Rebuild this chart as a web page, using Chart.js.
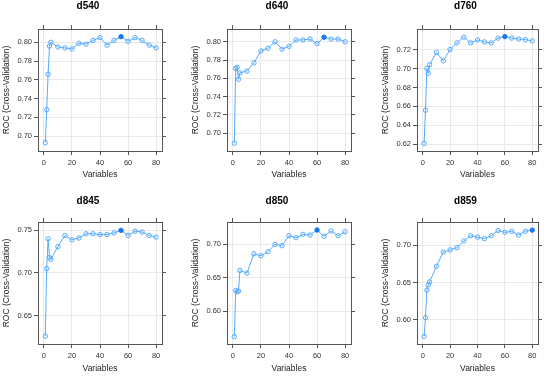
<!DOCTYPE html>
<html>
<head>
<meta charset="utf-8">
<script src="https://cdn.jsdelivr.net/npm/chart.js@4.4.1/dist/chart.umd.min.js"></script>
<style>
  html, body { margin: 0; padding: 0; background: #fff; }
  body { width: 550px; height: 376px; position: relative; overflow: hidden; }
  canvas { position: absolute; }
</style>
</head>
<body>
<script>
// Number of variables tried (x axis)
const variables = [1, 2, 3, 4, 5, 10, 15, 20, 25, 30, 35, 40, 45, 50, 55, 60, 65, 70, 75, 80];

// ROC (cross-validation) per subset size
const d540 = [0.693, 0.728, 0.766, 0.796, 0.800, 0.795, 0.794, 0.793, 0.799, 0.798, 0.802, 0.805, 0.797, 0.802, 0.806, 0.801, 0.805, 0.802, 0.797, 0.794];
const d640 = [0.689, 0.771, 0.772, 0.759, 0.766, 0.768, 0.777, 0.790, 0.793, 0.800, 0.792, 0.795, 0.802, 0.802, 0.803, 0.798, 0.805, 0.803, 0.803, 0.800];
const d760 = [0.621, 0.656, 0.700, 0.695, 0.704, 0.717, 0.708, 0.720, 0.727, 0.733, 0.727, 0.730, 0.728, 0.727, 0.732, 0.7336, 0.732, 0.731, 0.7305, 0.729];
const d845 = [0.626, 0.705, 0.740, 0.718, 0.716, 0.731, 0.744, 0.739, 0.741, 0.746, 0.746, 0.745, 0.745, 0.747, 0.750, 0.744, 0.749, 0.748, 0.744, 0.742];
const d850 = [0.562, 0.631, 0.629, 0.630, 0.661, 0.657, 0.686, 0.683, 0.689, 0.700, 0.698, 0.713, 0.710, 0.715, 0.714, 0.7215, 0.712, 0.720, 0.713, 0.719];
const d859 = [0.578, 0.603, 0.640, 0.647, 0.651, 0.672, 0.691, 0.694, 0.697, 0.706, 0.713, 0.711, 0.709, 0.713, 0.720, 0.7175, 0.719, 0.714, 0.719, 0.7205];

// Tick values
const xTicks = [0, 20, 40, 60, 80];
const yTicks540 = [0.70, 0.72, 0.74, 0.76, 0.78, 0.80];
const yTicks640 = [0.70, 0.72, 0.74, 0.76, 0.78, 0.80];
const yTicks760 = [0.62, 0.64, 0.66, 0.68, 0.70, 0.72];
const yTicks845 = [0.65, 0.70, 0.75];
const yTicks850 = [0.60, 0.65, 0.70];
const yTicks859 = [0.60, 0.65, 0.70];

const FONT = "'Liberation Sans', Arial, Helvetica, sans-serif";
const LINE = '#55aaff';
const BEST = '#1677ee';
const AXIS = '#555';
const GRID = '#e9e9e9';

// layout of the 2x3 lattice (plot box edges in page pixels)
const cols = [[38, 162], [227, 351], [417, 538]];
const rows = [
  { top: 0, boxBottom: 151, titlePad: { top: 0, bottom: 12 }, xTitlePad: 2.9 },
  { top: 190, boxBottom: 344, titlePad: { top: 5, bottom: 10 }, xTitlePad: 1.9 }
];

const panels = [
  { name: 'd540', values: d540, yMin: 0.684, yMax: 0.8142, yTicks: yTicks540, row: 0, col: 0 },
  { name: 'd640', values: d640, yMin: 0.6805, yMax: 0.814, yTicks: yTicks640, row: 0, col: 1 },
  { name: 'd760', values: d760, yMin: 0.613, yMax: 0.7416, yTicks: yTicks760, row: 0, col: 2 },
  { name: 'd845', values: d845, yMin: 0.6167, yMax: 0.7598, yTicks: yTicks845, row: 1, col: 0 },
  { name: 'd850', values: d850, yMin: 0.551, yMax: 0.7335, yTicks: yTicks850, row: 1, col: 1 },
  { name: 'd859', values: d859, yMin: 0.5677, yMax: 0.7314, yTicks: yTicks859, row: 1, col: 2 }
];

const LEFT_W = 38, RIGHT_W = 14, TOP_H = 5, BOTTOM_H = 32;

function setTicks(list) {
  return scale => { scale.ticks = list.map(v => ({ value: v })); };
}

function makePanel(p) {
  const r = rows[p.row];
  const [bl, br] = cols[p.col];
  const left = bl - LEFT_W;
  const width = br + RIGHT_W - left;
  const height = r.boxBottom + BOTTOM_H - r.top;

  const canvas = document.createElement('canvas');
  canvas.width = width;
  canvas.height = height;
  canvas.style.left = left + 'px';
  canvas.style.top = r.top + 'px';
  canvas.style.width = width + 'px';
  canvas.style.height = height + 'px';
  document.body.appendChild(canvas);

  // best subset size gets a filled marker
  const best = p.values.indexOf(Math.max(...p.values));
  const fill = ctx => ctx.dataIndex === best ? BEST : 'rgba(255,255,255,0)';
  const edge = ctx => ctx.dataIndex === best ? BEST : LINE;

  new Chart(canvas, {
    type: 'line',
    data: {
      datasets: [{
        data: variables.map((v, i) => ({ x: v, y: p.values[i] })),
        borderColor: LINE,
        borderWidth: 1,
        pointRadius: 2.2,
        pointBorderWidth: 1,
        pointBackgroundColor: fill,
        pointBorderColor: edge,
        tension: 0
      }]
    },
    options: {
      responsive: false,
      animation: false,
      devicePixelRatio: 1,
      layout: { padding: 0 },
      plugins: {
        legend: { display: false },
        tooltip: { enabled: false },
        title: {
          display: true,
          text: p.name,
          color: '#000',
          font: { family: FONT, size: 10, weight: 'bold' },
          padding: r.titlePad
        }
      },
      scales: {
        x: {
          type: 'linear', position: 'bottom',
          min: -4.2, max: 84.2,
          afterBuildTicks: setTicks(xTicks),
          afterFit: s => { s.height = BOTTOM_H; },
          ticks: { color: '#333', font: { family: FONT, size: 7.5 }, padding: 3, maxRotation: 0, autoSkip: false },
          grid: { color: GRID, tickColor: AXIS, tickLength: 4 },
          border: { color: AXIS },
          title: { display: true, text: 'Variables', color: '#222', font: { family: FONT, size: 8.5 }, padding: { top: 0, bottom: r.xTitlePad } }
        },
        y: {
          type: 'linear', position: 'left',
          min: p.yMin, max: p.yMax,
          afterBuildTicks: setTicks(p.yTicks),
          afterFit: s => { s.width = LEFT_W; },
          ticks: { color: '#333', font: { family: FONT, size: 7.5 }, padding: 2, callback: v => v.toFixed(2) },
          grid: { color: GRID, tickColor: AXIS, tickLength: 4 },
          border: { color: AXIS },
          title: { display: true, text: 'ROC (Cross-Validation)', color: '#222', font: { family: FONT, size: 8.5 }, padding: { top: 1.8, bottom: 0 } }
        },
        x2: {
          type: 'linear', position: 'top',
          min: -4.2, max: 84.2,
          afterBuildTicks: setTicks(xTicks),
          afterFit: s => { s.height = TOP_H; },
          ticks: { display: false },
          grid: { drawOnChartArea: false, tickColor: AXIS, tickLength: 4 },
          border: { color: AXIS }
        },
        y2: {
          type: 'linear', position: 'right',
          min: p.yMin, max: p.yMax,
          afterBuildTicks: setTicks(p.yTicks),
          afterFit: s => { s.width = RIGHT_W; },
          ticks: { display: false },
          grid: { drawOnChartArea: false, tickColor: AXIS, tickLength: 4 },
          border: { color: AXIS }
        }
      }
    }
  });
}

panels.forEach(makePanel);
</script>
</body>
</html>
